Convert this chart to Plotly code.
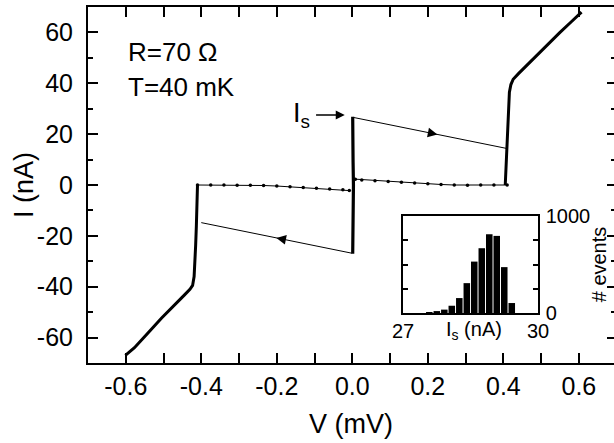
import numpy as np
import plotly.graph_objects as go

# ---------------- data ----------------
# quasiparticle (gap + ohmic) branches, V in mV, I in nA
right_branch_V = [0.405, 0.407, 0.409, 0.411, 0.413, 0.416, 0.420, 0.426, 0.440, 0.470, 0.500, 0.523, 0.550, 0.580, 0.607]
right_branch_I = [0.0, 8.0, 16.0, 24.0, 31.0, 36.5, 39.5, 41.6, 43.8, 48.3, 52.6, 56.0, 60.0, 64.2, 68.0]
left_branch_V = [-0.410, -0.411, -0.413, -0.415, -0.417, -0.419, -0.423, -0.430, -0.445, -0.475, -0.505, -0.540, -0.577, -0.601]
left_branch_I = [0.0, -8.0, -16.0, -24.0, -31.0, -36.0, -39.5, -41.0, -43.3, -47.8, -52.3, -58.0, -64.0, -67.0]

# supercurrent branch
super_V = [0.001, 0.002, 0.002, 0.003, 0.002, 0.002, 0.001]
super_I = [-27.0, -18.0, -9.0, 0.0, 9.0, 18.0, 26.8]

# subgap (retrapping) branches, dotted
subgap_right_V = [0.410, 0.375, 0.340, 0.305, 0.270, 0.235, 0.200, 0.165, 0.130, 0.095, 0.060, 0.025, 0.008]
subgap_right_I = [0.0, 0.0, 0.0, -0.1, 0.0, 0.2, 0.5, 0.8, 1.1, 1.4, 1.7, 2.0, 2.3]
subgap_left_V = [-0.410, -0.375, -0.340, -0.305, -0.270, -0.235, -0.200, -0.165, -0.130, -0.095, -0.060, -0.025, -0.008]
subgap_left_I = [0.0, 0.0, 0.0, -0.1, -0.1, -0.2, -0.4, -0.7, -1.0, -1.3, -1.6, -1.9, -2.2]

# load lines (switching jumps)
load_up_V = [0.002, 0.408]
load_up_I = [26.6, 14.4]
load_dn_V = [-0.002, -0.400]
load_dn_I = [-26.8, -14.8]

# switching current marker
Is_V = -0.02
Is_I = 27.5

# inset histogram of switching current
hist_Is = [27.583, 27.750, 27.917, 28.083, 28.250, 28.417, 28.583, 28.750, 28.917, 29.083, 29.250, 29.417]
hist_counts = [10, 20, 35, 75, 154, 308, 530, 668, 812, 795, 473, 103]
inset_x_ticks = [27, 30]
inset_x_labels = ["27", "30"]

x_ticks = [-0.6, -0.4, -0.2, 0.0, 0.2, 0.4, 0.6]
x_ticklabels = ["-0.6", "-0.4", "-0.2", "0.0", "0.2", "0.4", "0.6"]
x_minor = [-0.7, -0.5, -0.3, -0.1, 0.1, 0.3, 0.5]
y_ticks = [-60, -40, -20, 0, 20, 40, 60]
y_ticklabels = ["-60", "-40", "-20", "0", "20", "40", "60"]
y_minor = [-50, -30, -10, 10, 30, 50]

FONT = "Liberation Sans, Arial, Helvetica, sans-serif"
BLACK = "black"

fig = go.Figure()

def line(xs, ys, w, **kw):
    fig.add_trace(go.Scatter(x=xs, y=ys, mode="lines", line=dict(color=BLACK, width=w),
                             showlegend=False, hoverinfo="skip", **kw))

line(right_branch_V, right_branch_I, 3)
line(left_branch_V, left_branch_I, 3)
line(super_V, super_I, 3.2)
for xs, ys in [(subgap_right_V, subgap_right_I), (subgap_left_V, subgap_left_I)]:
    fig.add_trace(go.Scatter(x=xs, y=ys, mode="lines+markers",
                             line=dict(color=BLACK, width=1),
                             marker=dict(color=BLACK, size=3.5),
                             showlegend=False, hoverinfo="skip"))
line(load_up_V, load_up_I, 1)
line(load_dn_V, load_dn_I, 1)

# arrowheads along load lines, positioned from the load-line data
def arrow_on(xs, ys, frac):
    xa = xs[0] + frac * (xs[1] - xs[0])
    ya = ys[0] + frac * (ys[1] - ys[0])
    xb = xs[0] + (frac - 0.05) * (xs[1] - xs[0])
    yb = ys[0] + (frac - 0.05) * (ys[1] - ys[0])
    fig.add_annotation(x=xa, y=ya, ax=xb, ay=yb, xref="x", yref="y", axref="x", ayref="y",
                       showarrow=True, arrowhead=2, arrowsize=1.6, arrowwidth=1.2,
                       arrowcolor=BLACK, text="", standoff=0)

arrow_on(load_up_V, load_up_I, 0.55)
arrow_on(load_dn_V, load_dn_I, 0.50)

# I_s arrow and label
fig.add_annotation(x=Is_V, y=Is_I, ax=Is_V - 0.08, ay=Is_I, xref="x", yref="y", axref="x", ayref="y",
                   showarrow=True, arrowhead=2, arrowsize=1.2, arrowwidth=1.5, arrowcolor=BLACK,
                   text="", standoff=0)
fig.add_annotation(x=-0.108, y=27.5, xref="x", yref="y", showarrow=False,
                   xanchor="right", yanchor="middle",
                   text="I<sub>s</sub>", font=dict(family=FONT, size=27, color=BLACK))

# R and T labels
fig.add_annotation(x=-0.6, y=52.5, xref="x", yref="y", showarrow=False, xanchor="left", yanchor="middle",
                   text="R=70 Ω", font=dict(family=FONT, size=26, color=BLACK))
fig.add_annotation(x=-0.6, y=38.5, xref="x", yref="y", showarrow=False, xanchor="left", yanchor="middle",
                   text="T=40 mK", font=dict(family=FONT, size=26, color=BLACK))

# inset histogram
fig.add_trace(go.Bar(x=hist_Is, y=hist_counts, xaxis="x2", yaxis="y2",
                     marker=dict(color=BLACK, line=dict(width=0)), width=0.145,
                     showlegend=False, hoverinfo="skip"))

# invisible trace to activate right-side tick axis of main plot
fig.add_trace(go.Scatter(x=[None], y=[None], yaxis="y3", showlegend=False, hoverinfo="skip"))

axis_common = dict(showline=True, linecolor=BLACK, linewidth=2, ticks="inside", tickcolor=BLACK,
                   tickwidth=2, showgrid=False, zeroline=False, automargin=False,
                   tickfont=dict(family=FONT, size=25, color=BLACK))

fig.update_layout(
    width=614, height=443,
    margin=dict(l=88, r=0, t=7, b=80, autoexpand=False),
    paper_bgcolor="white", plot_bgcolor="white",
    font=dict(family=FONT, color=BLACK),
    xaxis=dict(range=[-0.7, 0.693], tickvals=x_ticks, ticktext=x_ticklabels, ticklen=10,
               mirror="allticks", ticklabelstandoff=0,
               minor=dict(tickvals=x_minor, ticklen=5, ticks="inside", tickcolor=BLACK, tickwidth=2),
               **axis_common),
    yaxis=dict(range=[-70, 70], tickvals=y_ticks, ticktext=y_ticklabels, ticklen=10,
               mirror=False, ticklabelstandoff=8,
               minor=dict(tickvals=y_minor, ticklen=5, ticks="inside", tickcolor=BLACK, tickwidth=2),
               **axis_common),
    yaxis3=dict(range=[-70, 70], overlaying="y", side="right", anchor="x", showline=False,
                tickvals=y_ticks, ticks="inside", ticklen=7, tickcolor=BLACK, tickwidth=2,
                showticklabels=False, showgrid=False, zeroline=False, automargin=False,
                minor=dict(tickvals=y_minor, ticklen=3, ticks="inside", tickcolor=BLACK, tickwidth=2)),
    xaxis2=dict(domain=[0.599, 0.8555], anchor="y2", range=[27, 30], showticklabels=False,
                showline=True, linecolor=BLACK, linewidth=1.5, mirror=True,
                ticks="", showgrid=False, zeroline=False, automargin=False),
    yaxis2=dict(domain=[0.1404, 0.4129], anchor="x2", range=[0, 1000], side="right",
                tickvals=[0, 250, 500, 750, 1000], ticktext=["0", "", "", "", "1000"],
                showline=True, linecolor=BLACK, linewidth=1.5, mirror="allticks",
                ticks="inside", ticklen=5, tickcolor=BLACK, tickwidth=1.5, automargin=False,
                showgrid=False, zeroline=False, ticklabelstandoff=2,
                tickfont=dict(family=FONT, size=20, color=BLACK)),
    bargap=0.1,
)

# main axis titles
fig.add_annotation(x=0.5, y=-0.171, xref="paper", yref="paper", showarrow=False,
                   xanchor="center", yanchor="middle", text="V (mV)",
                   font=dict(family=FONT, size=27, color=BLACK))
fig.add_annotation(x=-0.1217, y=0.5, xref="paper", yref="paper", showarrow=False,
                   xanchor="center", yanchor="middle", textangle=-90, text="I (nA)",
                   font=dict(family=FONT, size=27, color=BLACK))

# inset tick labels and axis titles (paper y relative to main plot area)
for v, t in zip(inset_x_ticks, inset_x_labels):
    fig.add_annotation(x=v, y=0.09, xref="x2", yref="paper", showarrow=False,
                       xanchor="center", yanchor="middle", text=t,
                       font=dict(family=FONT, size=20, color=BLACK))
fig.add_annotation(x=0.734, y=0.09, xref="paper", yref="paper", showarrow=False,
                   xanchor="center", yanchor="middle", text="I<sub>s</sub> (nA)",
                   font=dict(family=FONT, size=20, color=BLACK))
fig.add_annotation(x=0.972, y=0.278, xref="paper", yref="paper", showarrow=False,
                   xanchor="center", yanchor="middle", textangle=-90, text="# events",
                   font=dict(family=FONT, size=20, color=BLACK))

fig.write_html("out.html", config={"displayModeBar": False},
               post_script="document.body.style.margin='0px';")
